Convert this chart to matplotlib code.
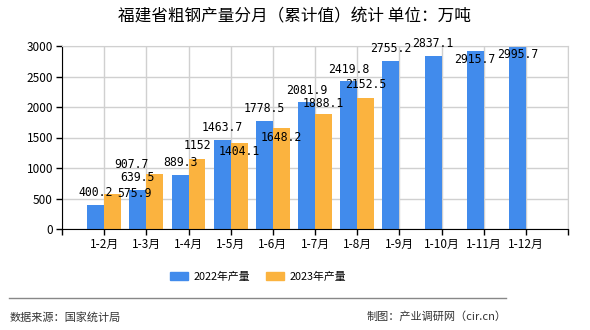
import matplotlib
matplotlib.use('Agg')
import matplotlib.pyplot as plt
from matplotlib.patches import Patch
from matplotlib.lines import Line2D

plt.rcParams['font.family'] = ['Noto Sans CJK SC', 'DejaVu Sans']

# 数据
months = ['1-2月', '1-3月', '1-4月', '1-5月', '1-6月', '1-7月',
          '1-8月', '1-9月', '1-10月', '1-11月', '1-12月']
output_2022 = [400.2, 639.5, 889.3, 1463.7, 1778.5, 2081.9,
               2419.8, 2755.2, 2837.1, 2915.7, 2995.7]
output_2023 = [575.9, 907.7, 1152, 1404.1, 1648.2, 1888.1, 2152.5]

# 标签偏移（像素），仿原图避让
off_2023 = [(22, 0), (-23, 9), (0, 13), (0, -8), (0, -9), (0, 10), (0, 13)]

c_2022 = '#418BEC'
c_2023 = '#FBB33F'
grid_c = '#d0d0d0'

fig = plt.figure(figsize=(5.9, 3.3), dpi=100)
ax = fig.add_axes([62 / 590, 1 - 229 / 330, 506 / 590, 183 / 330])

w = 0.4
x1 = [i + 1 - w / 2 for i in range(len(output_2022))]
x2 = [i + 1 + w / 2 for i in range(len(output_2023))]
ax.bar(x1, output_2022, width=w, color=c_2022, zorder=2)
ax.bar(x2, output_2023, width=w, color=c_2023, zorder=2)

lab_font = dict(family=['DejaVu Sans Mono'], fontsize=8.3, color='black')
for x, v in zip(x1, output_2022):
    dy = -8 if v > 2880 else 12
    ax.annotate(f'{v:g}', (x, v), xytext=(0, dy),
                textcoords='offset pixels', ha='center', va='center',
                zorder=5, **lab_font)
for x, v, (dx, dy) in zip(x2, output_2023, off_2023):
    ax.annotate(f'{v:g}', (x, v), xytext=(dx, dy),
                textcoords='offset pixels', ha='center', va='center',
                zorder=5, **lab_font)

ax.set_xlim(0, 12)
ax.set_ylim(0, 3000)
ax.set_xticks(range(0, 13))
ax.set_xticklabels([''] + months + [''])
ax.set_yticks(range(0, 3001, 500))
ax.tick_params(axis='both', labelsize=8.5, length=4, width=1, color='black', pad=2.5)
ax.grid(True, color=grid_c, linewidth=1, zorder=0)
for s in ['top', 'right']:
    ax.spines[s].set_color(grid_c)
ax.spines['left'].set_color('black')
ax.spines['bottom'].set_color('black')
ax.set_axisbelow(True)

fig.text(294 / 590, 1 - 17 / 330, '福建省粗钢产量分月（累计值）统计 单位：万吨',
         ha='center', va='center', fontsize=12)

handles = [Patch(color=c_2022, label='2022年产量'),
           Patch(color=c_2023, label='2023年产量')]
fig.legend(handles=handles, loc='center', bbox_to_anchor=(258 / 590, 1 - 277 / 330),
           ncol=2, frameon=False, fontsize=7.8, handlelength=1.7, handleheight=0.8,
           columnspacing=1.4, handletextpad=0.5)

fig.add_artist(Line2D([9 / 590, 506 / 590], [1 - 298 / 330] * 2,
                      color='#888888', linewidth=1, transform=fig.transFigure))
fig.text(10 / 590, 1 - 317 / 330, '数据来源：国家统计局', ha='left', va='center',
         fontsize=8, color='#333333')
fig.text(507 / 590, 1 - 317 / 330, '制图：产业调研网（cir.cn）', ha='right', va='center',
         fontsize=8, color='#333333')

fig.savefig('out.png', dpi=100)
